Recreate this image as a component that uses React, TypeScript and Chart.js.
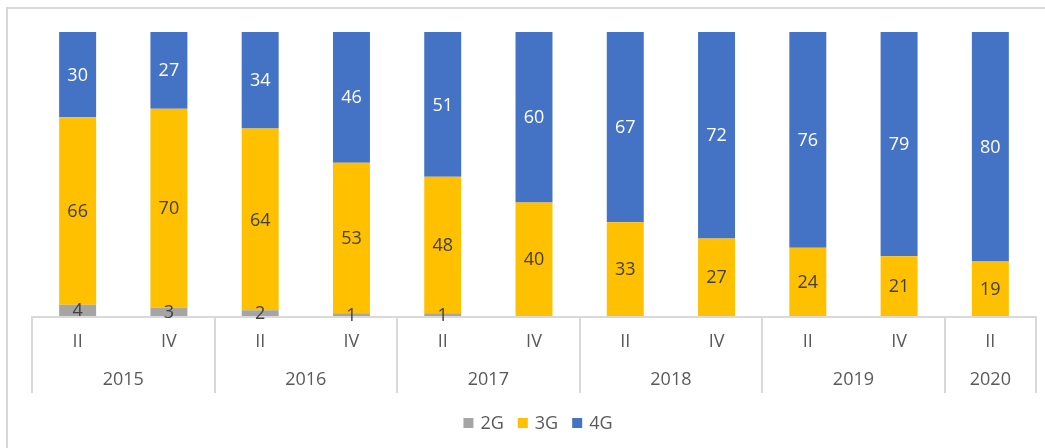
import React, { useEffect, useRef } from "react";
import { Chart, registerables } from "chart.js";

Chart.register(...registerables);

const quarters = ["II", "IV", "II", "IV", "II", "IV", "II", "IV", "II", "IV", "II"];
const years = ["2015", "2015", "2016", "2016", "2017", "2017", "2018", "2018", "2019", "2019", "2020"];
const series2G: (number | null)[] = [4, 3, 2, 1, 1, null, null, null, null, null, null];
const series3G: number[] = [66, 70, 64, 53, 48, 40, 33, 27, 24, 21, 19];
const series4G: number[] = [30, 27, 34, 46, 51, 60, 67, 72, 76, 79, 80];

const seriesNames = ["2G", "3G", "4G"];
const seriesColors = ["#A5A5A5", "#FFC000", "#4472C4"];
const labelColors = ["#404040", "#404040", "#FFFFFF"];

const FONT = '"Open Sans", "Noto Sans", sans-serif';
const GRID = "#D9D9D9";
const TEXT = "#595959";

export default function App() {
  const ref = useRef<HTMLCanvasElement | null>(null);

  useEffect(() => {
    const raw = [series2G, series3G, series4G];
    const totals = quarters.map((_, i) => raw.reduce((s, arr) => s + (arr[i] ?? 0), 0));
    const pct = raw.map((arr) => arr.map((v, i) => (v == null ? 0 : (v / totals[i]) * 100)));

    const overlay = {
      id: "overlay",
      beforeDraw(chart: any) {
        const ctx = chart.ctx;
        ctx.save();
        ctx.fillStyle = "#FFFFFF";
        ctx.fillRect(0, 0, chart.width, chart.height);
        ctx.strokeStyle = GRID;
        ctx.lineWidth = 2;
        ctx.beginPath();
        ctx.moveTo(7, chart.height + 2);
        ctx.lineTo(7, 8);
        ctx.lineTo(chart.width + 2, 8);
        ctx.stroke();
        ctx.restore();
      },
      afterDatasetsDraw(chart: any) {
        const ctx = chart.ctx;
        const area = chart.chartArea;
        const xs = chart.scales.x;
        const n = quarters.length;
        ctx.save();
        // axis line
        ctx.strokeStyle = GRID;
        ctx.lineWidth = 2;
        ctx.beginPath();
        ctx.moveTo(area.left, area.bottom + 1);
        ctx.lineTo(area.right, area.bottom + 1);
        ctx.stroke();
        // group boundaries
        const bounds: number[] = [];
        const edge = (i: number) => {
          if (i <= 0) return area.left;
          if (i >= n) return area.right;
          return (xs.getPixelForValue(i - 1) + xs.getPixelForValue(i)) / 2;
        };
        const groups: { year: string; start: number; end: number }[] = [];
        years.forEach((y, i) => {
          if (i === 0 || years[i - 1] !== y) groups.push({ year: y, start: i, end: i });
          else groups[groups.length - 1].end = i;
        });
        groups.forEach((g) => bounds.push(edge(g.start)));
        bounds.push(area.right);
        ctx.lineWidth = 2;
        bounds.forEach((bx) => {
          ctx.beginPath();
          ctx.moveTo(Math.round(bx), area.bottom);
          ctx.lineTo(Math.round(bx), area.bottom + 77);
          ctx.stroke();
        });
        ctx.fillStyle = TEXT;
        ctx.font = `18px ${FONT}`;
        ctx.textAlign = "center";
        ctx.textBaseline = "middle";
        quarters.forEach((q, i) => {
          ctx.fillText(q, xs.getPixelForValue(i), area.bottom + 26);
        });
        groups.forEach((g) => {
          const cx = (edge(g.start) + edge(g.end + 1)) / 2;
          ctx.fillText(g.year, cx, area.bottom + 64);
        });
        // data labels
        chart.data.datasets.forEach((ds: any, di: number) => {
          const meta = chart.getDatasetMeta(di);
          meta.data.forEach((el: any, i: number) => {
            const v = raw[di][i];
            if (v == null) return;
            ctx.fillStyle = labelColors[di];
            ctx.fillText(String(v), el.x, (el.y + el.base) / 2 + 1);
          });
        });
        // legend
        ctx.font = `18px ${FONT}`;
        ctx.textAlign = "left";
        const box = 10;
        const gapBox = 7;
        const gapItem = 14;
        const widths = seriesNames.map((s) => box + gapBox + ctx.measureText(s).width);
        const total = widths.reduce((a, b) => a + b, 0) + gapItem * (widths.length - 1);
        let lx = (area.left + area.right) / 2 - total / 2 + 4;
        const ly = 423;
        seriesNames.forEach((s, i) => {
          ctx.fillStyle = seriesColors[i];
          ctx.fillRect(lx, ly - box / 2, box, box);
          ctx.fillStyle = TEXT;
          ctx.fillText(s, lx + box + gapBox, ly + 1);
          lx += widths[i] + gapItem;
        });
        ctx.restore();
      },
    };

    const chart = new Chart(ref.current as HTMLCanvasElement, {
      type: "bar",
      data: {
        labels: quarters.map((q, i) => `${years[i]} ${q}`),
        datasets: seriesNames.map((name, i) => ({
          label: name,
          data: pct[i],
          backgroundColor: seriesColors[i],
          borderWidth: 0,
          categoryPercentage: 1,
          barPercentage: 0.405,
        })),
      },
      options: {
        animation: false,
        responsive: false,
        maintainAspectRatio: false,
        layout: { padding: { left: 32, right: 9, top: 32, bottom: 132 } },
        plugins: { legend: { display: false }, tooltip: { enabled: false } },
        scales: {
          x: { stacked: true, display: false },
          y: { stacked: true, display: false, min: 0, max: 100 },
        },
      },
      plugins: [overlay],
    });
    return () => chart.destroy();
  }, []);

  return (
    <div style={{ position: "fixed", left: 0, top: 0, width: 1045, height: 448, background: "#fff" }}>
      <canvas ref={ref} width={1045} height={448} style={{ display: "block", width: 1045, height: 448 }} />
    </div>
  );
}
